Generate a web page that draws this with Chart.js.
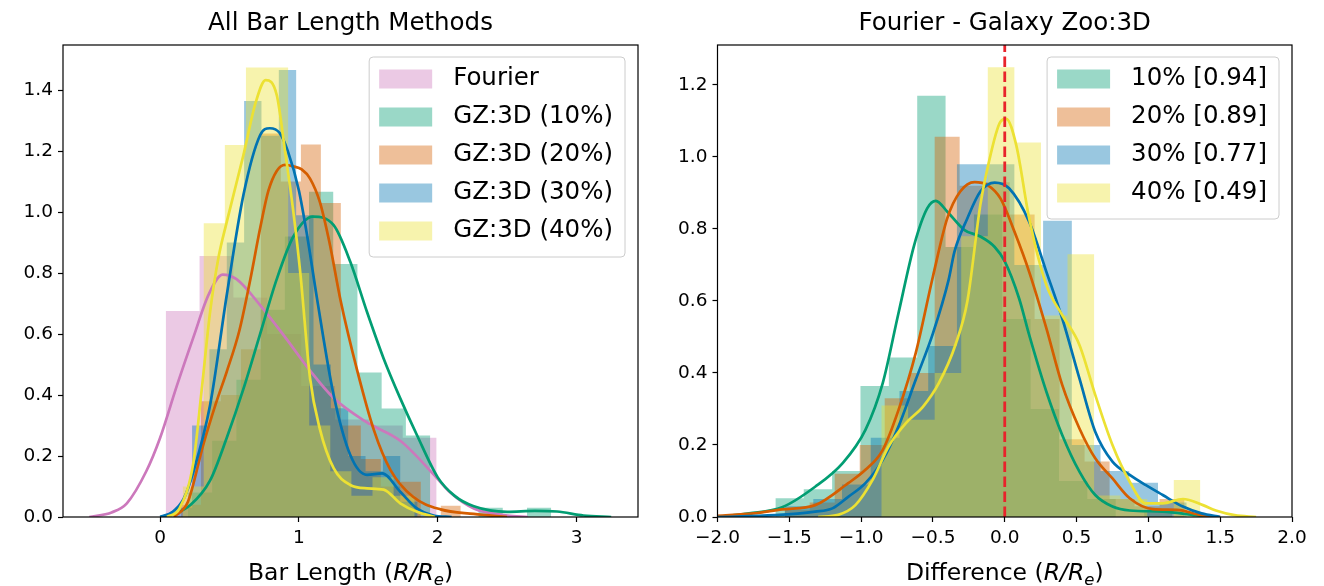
<!DOCTYPE html>
<html>
<head>
<meta charset="utf-8">
<title>Bar length histograms</title>
<script src="https://cdn.jsdelivr.net/npm/chart.js@4.4.0/dist/chart.umd.min.js"></script>
<style>
    html, body { margin: 0; padding: 0; background: #ffffff; }
    #wrap { position: relative; width: 1324px; height: 586px; }
    .panel { position: absolute; top: 0; width: 662px; height: 586px; }
</style>
</head>
<body>
<div id="wrap">
    <div class="panel" style="left:0"><canvas id="left-chart" width="662" height="586"></canvas></div>
    <div class="panel" style="left:662px"><canvas id="right-chart" width="662" height="586"></canvas></div>
</div>
<script>
// --- Colours (seaborn colorblind) ---
const PINK = '#cc78bc';
const TEAL = '#029e73';
const ORANGE = '#d55e00';
const BLUE = '#0173b2';
const YELLOW = '#ece133';
const FONT = "'DejaVu Sans', sans-serif";

// --- Left panel: all bar length methods ---
const leftLabels = ['Fourier', 'GZ:3D (10%)', 'GZ:3D (20%)', 'GZ:3D (30%)', 'GZ:3D (40%)'];
const leftXTicks = [0, 1, 2, 3];
const leftYTicks = [0, 0.2, 0.4, 0.6, 0.8, 1.0, 1.2, 1.4];

// histogram bins: first edge, bin width, density heights
const fourierBinStart = 0.04, fourierBinWidth = 0.244;
const fourierHeights = [0.676, 0.856, 0.72, 0.60, 0.43, 0.32, 0.30, 0.26];
const gz10BinStart = 0.20, gz10BinWidth = 0.1745;
const gz10Heights = [0.08, 0.25, 0.45, 0.68, 0.92, 1.067, 0.83, 0.474, 0.356, 0.267, 0, 0, 0.03, 0, 0.03];
const gz20BinStart = 0.15, gz20BinWidth = 0.144;
const gz20Heights = [0.04, 0.38, 0.40, 0.55, 1.258, 1.10, 1.222, 1.03, 0.30, 0.19, 0.10, 0.116, 0, 0.037];
const gz30BinStart = 0.105, gz30BinWidth = 0.125;
const gz30Heights = [0.03, 0.30, 0.55, 0.90, 1.364, 1.25, 1.466, 0.99, 0.50, 0.357, 0.20, 0.15, 0.20, 0.05];
const gz40BinStart = 0.162, gz40BinWidth = 0.152;
const gz40Heights = [0.10, 0.963, 1.22, 1.474, 1.474, 0.80, 0.30, 0.15, 0.07, 0.13, 0.07];

// KDE curves
const fourierKdeX = [-0.51, -0.35, -0.24, -0.1, 0.0, 0.12, 0.24, 0.35, 0.45, 0.55, 0.72, 0.9, 1.08, 1.25, 1.49, 1.73, 1.97, 2.09, 2.26, 2.5, 2.65];
const fourierKdeY = [0.0, 0.015, 0.045, 0.15, 0.26, 0.43, 0.59, 0.73, 0.795, 0.78, 0.695, 0.59, 0.48, 0.39, 0.31, 0.25, 0.14, 0.08, 0.028, 0.005, 0.0];
const gz10KdeX = [0.0, 0.1, 0.22, 0.36, 0.48, 0.6, 0.72, 0.84, 0.96, 1.1, 1.25, 1.37, 1.49, 1.61, 1.73, 1.85, 2.0, 2.12, 2.26, 2.5, 2.7, 2.86, 3.05, 3.25];
const gz10KdeY = [0.0, 0.01, 0.04, 0.12, 0.26, 0.42, 0.6, 0.78, 0.92, 0.985, 0.957, 0.837, 0.673, 0.52, 0.389, 0.269, 0.13, 0.07, 0.035, 0.017, 0.02, 0.018, 0.005, 0.0];
const gz20KdeX = [0.1, 0.2, 0.31, 0.4, 0.48, 0.57, 0.65, 0.72, 0.78, 0.84, 0.9, 0.96, 1.02, 1.08, 1.15, 1.22, 1.3, 1.42, 1.54, 1.66, 1.82, 2.02, 2.26, 2.5];
const gz20KdeY = [0.0, 0.05, 0.236, 0.37, 0.477, 0.61, 0.78, 0.946, 1.07, 1.135, 1.155, 1.15, 1.14, 1.11, 1.034, 0.90, 0.71, 0.48, 0.285, 0.154, 0.067, 0.025, 0.01, 0.0];
const gz30KdeX = [0.0, 0.09, 0.17, 0.24, 0.36, 0.48, 0.6, 0.72, 0.79, 0.86, 0.92, 1.0, 1.06, 1.13, 1.25, 1.37, 1.49, 1.6, 1.73, 1.85, 1.97, 2.1];
const gz30KdeY = [0.0, 0.017, 0.06, 0.149, 0.367, 0.728, 1.056, 1.252, 1.275, 1.26, 1.2, 1.07, 0.92, 0.717, 0.40, 0.203, 0.138, 0.143, 0.083, 0.028, 0.005, 0.0];
const gz40KdeX = [0.05, 0.14, 0.24, 0.3, 0.36, 0.42, 0.48, 0.6, 0.69, 0.76, 0.84, 0.9, 0.96, 1.01, 1.08, 1.15, 1.25, 1.37, 1.49, 1.61, 1.73, 1.85, 1.98];
const gz40KdeY = [0.0, 0.028, 0.18, 0.42, 0.673, 0.85, 0.968, 1.187, 1.362, 1.433, 1.384, 1.2, 1.0, 0.8, 0.455, 0.29, 0.16, 0.105, 0.094, 0.09, 0.045, 0.017, 0.0];

// --- Right panel: Fourier - Galaxy Zoo:3D differences ---
const rightLabels = ['10% [0.94]', '20% [0.89]', '30% [0.77]', '40% [0.49]'];
const rightXTicks = [-2.0, -1.5, -1.0, -0.5, 0.0, 0.5, 1.0, 1.5, 2.0];
const rightYTicks = [0, 0.2, 0.4, 0.6, 0.8, 1.0, 1.2];
const zeroLineX = 0;

const diff10BinStart = -1.597, diff10BinWidth = 0.1975;
const diff10Heights = [0.052, 0.077, 0.128, 0.364, 0.443, 1.170, 0.75, 0.84, 0.55, 0.30, 0.10, 0.05, 0, 0.02];
const diff20BinStart = -1.532, diff20BinWidth = 0.174;
const diff20Heights = [0.02, 0.04, 0.12, 0.20, 0.33, 0.40, 1.056, 0.92, 0.93, 0.84, 0.55, 0.216, 0.154, 0.05, 0.03, 0.05];
const diff30BinStart = -1.533, diff30BinWidth = 0.2;
const diff30Heights = [0.03, 0.05, 0.09, 0.22, 0.35, 0.475, 0.98, 0.98, 0.70, 0.823, 0.20, 0.128, 0.095, 0.04];
const diff40BinStart = -1.043, diff40BinWidth = 0.185;
const diff40Heights = [0.0, 0.31, 0.27, 0.40, 0.78, 1.249, 1.04, 0.56, 0.73, 0.06, 0.05, 0.0, 0.103];

const diff10KdeX = [-2.0, -1.78, -1.55, -1.32, -1.13, -0.97, -0.85, -0.74, -0.63, -0.54, -0.48, -0.4, -0.28, -0.17, -0.07, 0.0, 0.1, 0.17, 0.29, 0.4, 0.52, 0.63, 0.75, 0.87, 1.1, 1.33, 1.45];
const diff10KdeY = [0.0, 0.01, 0.027, 0.084, 0.149, 0.242, 0.371, 0.566, 0.756, 0.857, 0.878, 0.848, 0.797, 0.779, 0.75, 0.71, 0.607, 0.506, 0.348, 0.228, 0.126, 0.061, 0.029, 0.018, 0.015, 0.005, 0.0];
const diff20KdeX = [-2.0, -1.75, -1.55, -1.32, -1.09, -0.97, -0.85, -0.74, -0.62, -0.5, -0.4, -0.31, -0.21, -0.12, -0.03, 0.07, 0.17, 0.29, 0.4, 0.52, 0.63, 0.75, 0.87, 1.03, 1.2, 1.37, 1.5];
const diff20KdeY = [0.003, 0.01, 0.021, 0.033, 0.094, 0.131, 0.186, 0.297, 0.455, 0.668, 0.83, 0.904, 0.93, 0.922, 0.885, 0.79, 0.681, 0.524, 0.367, 0.246, 0.163, 0.107, 0.052, 0.022, 0.02, 0.005, 0.0];
const diff30KdeX = [-2.0, -1.6, -1.32, -1.2, -1.09, -0.97, -0.85, -0.74, -0.62, -0.5, -0.39, -0.35, -0.26, -0.17, -0.07, 0.03, 0.17, 0.29, 0.4, 0.52, 0.63, 0.75, 0.87, 0.98, 1.1, 1.24, 1.37, 1.5];
const diff30KdeY = [0.0, 0.005, 0.015, 0.024, 0.056, 0.094, 0.158, 0.251, 0.381, 0.51, 0.66, 0.737, 0.83, 0.904, 0.929, 0.913, 0.82, 0.681, 0.552, 0.385, 0.237, 0.154, 0.117, 0.089, 0.061, 0.029, 0.01, 0.0];
const diff40KdeX = [-1.3, -1.16, -1.04, -0.92, -0.81, -0.69, -0.57, -0.46, -0.34, -0.26, -0.17, -0.12, -0.03, 0.01, 0.08, 0.17, 0.29, 0.4, 0.52, 0.63, 0.75, 0.87, 0.98, 1.1, 1.24, 1.38, 1.47, 1.6, 1.75];
const diff40KdeY = [0.0, 0.006, 0.033, 0.103, 0.195, 0.26, 0.306, 0.371, 0.482, 0.6, 0.867, 0.969, 1.098, 1.106, 1.033, 0.83, 0.644, 0.561, 0.478, 0.339, 0.2, 0.098, 0.038, 0.038, 0.05, 0.033, 0.018, 0.005, 0.0];

// --- helpers ---
function withAlpha(hex, a) {
    const n = parseInt(hex.slice(1), 16);
    return `rgba(${(n >> 16) & 255}, ${(n >> 8) & 255}, ${n & 255}, ${a})`;
}

// step outline of a histogram, drawn with a stepped line + fill
function histDataset(start, width, heights, color, order) {
    const pts = [{ x: start, y: 0 }];
    heights.forEach((h, i) => pts.push({ x: start + i * width, y: h }));
    pts.push({ x: start + heights.length * width, y: 0 });
    return {
        data: pts,
        stepped: 'before',
        fill: 'origin',
        backgroundColor: withAlpha(color, 0.4),
        borderColor: 'rgba(0,0,0,0)',
        borderWidth: 0,
        pointRadius: 0,
        order: order
    };
}

function kdeDataset(xs, ys, color, order) {
    return {
        data: xs.map((x, i) => ({ x: x, y: ys[i] })),
        borderColor: color,
        borderWidth: 2.7,
        cubicInterpolationMode: 'monotone',
        fill: false,
        pointRadius: 0,
        order: order
    };
}

function fmtTick(v, digits) {
    const s = Math.abs(v).toFixed(digits);
    return v < -1e-9 ? '\u2212' + s : s;
}

// frame + title + x label + legend inside the axes
function decorPlugin(title, labels, colors) {
    return {
        id: 'decor',
        afterDatasetsDraw(chart) {
            const a = chart.chartArea;
            const ctx = chart.ctx;
            ctx.save();
            ctx.strokeStyle = '#000';
            ctx.lineWidth = 1.2;
            ctx.strokeRect(a.left, a.top, a.right - a.left, a.bottom - a.top);
            ctx.restore();
        },
        afterDraw(chart) {
            const a = chart.chartArea;
            const ctx = chart.ctx;
            const cx = (a.left + a.right) / 2;
            ctx.save();
            ctx.fillStyle = '#000';

            // title
            ctx.font = `24.5px ${FONT}`;
            ctx.textAlign = 'center';
            ctx.textBaseline = 'alphabetic';
            ctx.fillText(title, cx, a.top - 15);

            // x label with italic R/R_e
            const parts = [
                { t: chart.options.xLabelPrefix, f: `23.5px ${FONT}`, dy: 0 },
                { t: 'R/R', f: `italic 23.5px ${FONT}`, dy: 0 },
                { t: 'e', f: `italic 16.5px ${FONT}`, dy: 5 },
                { t: ')', f: `23.5px ${FONT}`, dy: 0 }
            ];
            let total = 0;
            parts.forEach(p => { ctx.font = p.f; p.w = ctx.measureText(p.t).width; total += p.w; });
            let x = cx - total / 2;
            ctx.textAlign = 'left';
            parts.forEach(p => { ctx.font = p.f; ctx.fillText(p.t, x, 580 + p.dy); x += p.w; });

            // legend box
            ctx.font = `24.5px ${FONT}`;
            const textW = Math.max(...labels.map(l => ctx.measureText(l).width));
            const rowH = 38;
            const boxW = 10 + 53 + 21 + textW + 12;
            const boxH = labels.length * rowH + 10;
            const bx = a.right - 13 - boxW;
            const by = a.top + 12;
            ctx.beginPath();
            ctx.roundRect(bx, by, boxW, boxH, 4);
            ctx.fillStyle = 'rgba(255,255,255,0.8)';
            ctx.fill();
            ctx.strokeStyle = '#cccccc';
            ctx.lineWidth = 1;
            ctx.stroke();
            labels.forEach((l, i) => {
                const cy = by + 22 + i * rowH;
                ctx.fillStyle = withAlpha(colors[i], 0.4);
                ctx.fillRect(bx + 10, cy - 9.5, 53, 19);
                ctx.fillStyle = '#000';
                ctx.textBaseline = 'middle';
                ctx.fillText(l, bx + 10 + 53 + 21, cy);
            });
            ctx.restore();
        }
    };
}

function axisOptions(min, max, ticks, digits, isX, fitSize) {
    return {
        type: 'linear',
        min: min,
        max: max,
        afterBuildTicks: s => { s.ticks = ticks.map(v => ({ value: v })); },
        afterFit: s => { if (isX) { s.height = fitSize; } else { s.width = fitSize; } },
        ticks: {
            color: '#000',
            font: { family: FONT, size: 18.5 },
            padding: 5,
            autoSkip: false,
            maxRotation: 0,
            callback: v => fmtTick(v, digits)
        },
        grid: {
            display: true,
            drawOnChartArea: false,
            drawTicks: true,
            tickLength: 5,
            tickWidth: 1.2,
            tickColor: '#000'
        },
        border: { display: false }
    };
}

function makeChart(canvasId, cfg) {
    return new Chart(document.getElementById(canvasId).getContext('2d'), {
        type: 'line',
        data: { datasets: cfg.datasets },
        options: {
            responsive: false,
            animation: false,
            xLabelPrefix: cfg.xLabelPrefix,
            layout: { padding: { left: 0, right: cfg.padRight, top: 45, bottom: 0 } },
            plugins: { legend: { display: false }, tooltip: { enabled: false } },
            scales: {
                x: axisOptions(cfg.xMin, cfg.xMax, cfg.xTicks, cfg.xDigits, true, 69),
                y: axisOptions(0, cfg.yMax, cfg.yTicks, 1, false, cfg.yAxisWidth)
            }
        },
        plugins: [decorPlugin(cfg.title, cfg.labels, cfg.colors)]
    });
}

// --- Build charts ---
makeChart('left-chart', {
    title: 'All Bar Length Methods',
    xLabelPrefix: 'Bar Length (',
    labels: leftLabels,
    colors: [PINK, TEAL, ORANGE, BLUE, YELLOW],
    xMin: -0.70, xMax: 3.443, xTicks: leftXTicks, xDigits: 0,
    yMax: 1.548, yTicks: leftYTicks,
    yAxisWidth: 63, padRight: 24,
    datasets: [
        // KDE lines on top (lower order drawn last)
        kdeDataset(gz40KdeX, gz40KdeY, YELLOW, 0),
        kdeDataset(gz30KdeX, gz30KdeY, BLUE, 1),
        kdeDataset(gz20KdeX, gz20KdeY, ORANGE, 2),
        kdeDataset(gz10KdeX, gz10KdeY, TEAL, 3),
        kdeDataset(fourierKdeX, fourierKdeY, PINK, 4),
        histDataset(gz40BinStart, gz40BinWidth, gz40Heights, YELLOW, 5),
        histDataset(gz30BinStart, gz30BinWidth, gz30Heights, BLUE, 6),
        histDataset(gz20BinStart, gz20BinWidth, gz20Heights, ORANGE, 7),
        histDataset(gz10BinStart, gz10BinWidth, gz10Heights, TEAL, 8),
        histDataset(fourierBinStart, fourierBinWidth, fourierHeights, PINK, 9)
    ]
});

makeChart('right-chart', {
    title: 'Fourier - Galaxy Zoo:3D',
    xLabelPrefix: 'Difference (',
    labels: rightLabels,
    colors: [TEAL, ORANGE, BLUE, YELLOW],
    xMin: -2, xMax: 2, xTicks: rightXTicks, xDigits: 1,
    yMax: 1.311, yTicks: rightYTicks,
    yAxisWidth: 55.5, padRight: 32,
    datasets: [
        {
            // dashed zero reference line
            data: [{ x: zeroLineX, y: 0 }, { x: zeroLineX, y: 1.311 }],
            borderColor: '#e8232b',
            borderWidth: 2.8,
            borderDash: [10.5, 4.5],
            pointRadius: 0,
            fill: false,
            order: -1
        },
        kdeDataset(diff40KdeX, diff40KdeY, YELLOW, 0),
        kdeDataset(diff30KdeX, diff30KdeY, BLUE, 1),
        kdeDataset(diff20KdeX, diff20KdeY, ORANGE, 2),
        kdeDataset(diff10KdeX, diff10KdeY, TEAL, 3),
        histDataset(diff40BinStart, diff40BinWidth, diff40Heights, YELLOW, 5),
        histDataset(diff30BinStart, diff30BinWidth, diff30Heights, BLUE, 6),
        histDataset(diff20BinStart, diff20BinWidth, diff20Heights, ORANGE, 7),
        histDataset(diff10BinStart, diff10BinWidth, diff10Heights, TEAL, 8)
    ]
});
</script>
</body>
</html>
